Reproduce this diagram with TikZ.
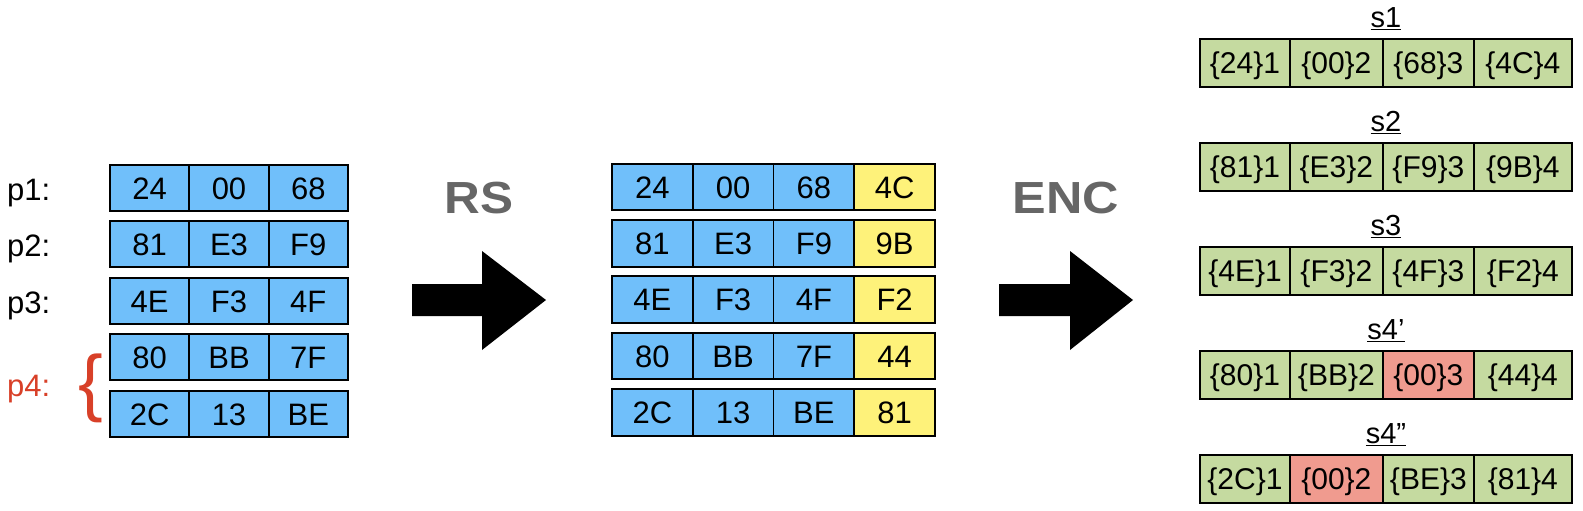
\documentclass[tikz,border=0pt]{standalone}
\usepackage{fontspec}
\usepackage{graphicx}
\setmainfont{Liberation Sans}
\definecolor{cblue}{RGB}{112,191,250}
\definecolor{cyellow}{RGB}{254,242,122}
\definecolor{cgreen}{RGB}{197,218,160}
\definecolor{cpink}{RGB}{240,155,143}
\definecolor{cred}{RGB}{216,64,40}
\definecolor{cgray}{RGB}{102,102,102}
\begin{document}
\begin{tikzpicture}[x=1pt,y=-1pt,
  cell/.style={draw=black, line width=1.8pt, inner sep=0pt, outer sep=0pt,
    minimum height=46pt, text height=22.2pt, text depth=0pt,
    font=\fontsize{31}{31}\selectfont},
  scell/.style={cell, minimum height=47.5pt, text height=21.5pt, font=\fontsize{30}{30}\selectfont},
  plabel/.style={anchor=base west, inner sep=0pt, font=\fontsize{31}{31}\selectfont},
  slabel/.style={anchor=base, inner sep=0pt, font=\fontsize{29}{29}\selectfont},
  oplabel/.style={anchor=base, inner sep=0pt, text=cgray, font=\fontsize{45}{45}\selectfont\bfseries},
  bigarrow/.style={fill=black}]
\useasboundingbox (0,0) rectangle (1583,511);

% left table
\foreach \r/\y/\a/\b/\c in {1/188/24/00/68, 2/244/81/E3/F9, 3/301/4E/F3/4F, 4/357/80/BB/7F, 5/414/2C/13/BE}{
  \node[cell, fill=cblue, minimum width=79.3pt] (L\r-1) at (149.7,\y) {\a};
  \node[cell, fill=cblue, minimum width=79.3pt] (L\r-2) at (229.0,\y) {\b};
  \node[cell, fill=cblue, minimum width=79.3pt] (L\r-3) at (308.3,\y) {\c};
}
\node[plabel] (p1) at (7,200) {p1:};
\node[plabel] (p2) at (7,256) {p2:};
\node[plabel] (p3) at (7,313) {p3:};
\node[plabel, text=cred] (p4) at (7,396) {p4:};
\node[anchor=base west, inner sep=0pt, text=cred, font=\fontsize{74}{74}\selectfont] (brace) at (78,407.5) {\{};

% RS arrow
\node[oplabel] (rs) at (479,213.3) {\scalebox{1.1}[1]{RS}};
\fill[bigarrow] (412,284) -- (482,284) -- (482,251) -- (546,300) -- (482,350) -- (482,316) -- (412,316) -- cycle;

% middle table
\foreach \r/\y/\a/\b/\c/\d in {1/187/24/00/68/4C, 2/243.5/81/E3/F9/9B, 3/299.5/4E/F3/4F/F2, 4/356/80/BB/7F/44, 5/412.5/2C/13/BE/81}{
  \node[cell, fill=cblue, minimum width=80.75pt, minimum height=46.5pt] (M\r-1) at (652.4,\y) {\a};
  \node[cell, fill=cblue, minimum width=80.75pt, minimum height=46.5pt] (M\r-2) at (733.1,\y) {\b};
  \node[cell, fill=cblue, minimum width=80.75pt, minimum height=46.5pt] (M\r-3) at (813.9,\y) {\c};
  \node[cell, fill=cyellow, minimum width=80.75pt, minimum height=46.5pt] (M\r-4) at (894.6,\y) {\d};
}

% ENC arrow
\node[oplabel] (enc) at (1066,213.3) {\scalebox{1.12}[1]{ENC}};
\fill[bigarrow] (999,284) -- (1070,284) -- (1070,251) -- (1133,300) -- (1070,350) -- (1070,316) -- (999,316) -- cycle;

% right tables
\foreach \r/\y/\a/\b/\c/\d/\fb/\fc in {1/63/24/00/68/4C/cgreen/cgreen, 2/167/81/E3/F9/9B/cgreen/cgreen, 3/271/4E/F3/4F/F2/cgreen/cgreen, 4/375/80/BB/00/44/cgreen/cpink, 5/479/2C/00/BE/81/cpink/cgreen}{
  \node[scell, fill=cgreen, minimum width=90pt] (S\r-1) at (1245,\y) {\{\a\}1};
  \node[scell, fill=\fb, minimum width=92.7pt] (S\r-2) at (1336.35,\y) {\{\b\}2};
  \node[scell, fill=\fc, minimum width=91.3pt] (S\r-3) at (1428.35,\y) {\{\c\}3};
  \node[scell, fill=cgreen, minimum width=97.7pt] (S\r-4) at (1522.85,\y) {\{\d\}4};
}
\node[slabel] (s1) at (1386,27.5) {\underline{s1}};
\node[slabel] (s2) at (1386,131.5) {\underline{s2}};
\node[slabel] (s3) at (1386,235.5) {\underline{s3}};
\node[slabel] (s4a) at (1386,339.5) {\underline{s4’}};
\node[slabel] (s4b) at (1386,443.5) {\underline{s4”}};
\end{tikzpicture}
\end{document}
